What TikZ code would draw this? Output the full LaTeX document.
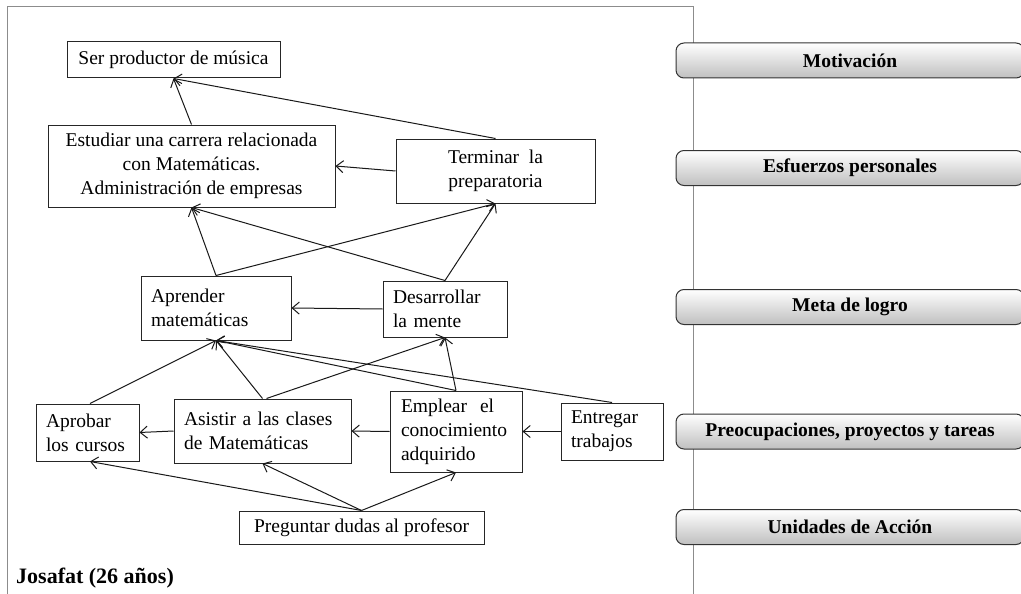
\documentclass[tikz,border=0pt]{standalone}
\usepackage{fontspec}
\setmainfont{Liberation Serif}
\usetikzlibrary{arrows.meta}

\begin{document}
\begin{tikzpicture}[x=1pt,y=-1pt,
  box/.style={draw=black!85, line width=1pt, inner sep=0pt,
    font=\fontsize{19.5}{24}\selectfont, align=center},
  leftbox/.style={box, align=left, text width=#1},
  lab/.style={draw=black!80, line width=1pt, rounded corners=8pt,
    top color=white, bottom color=black!25, minimum width=348pt,
    minimum height=35pt, inner sep=0pt,
    font=\fontsize{19.5}{24}\selectfont\bfseries},
  arr/.style={draw=black!90, line width=1pt,
    -{Straight Barb[length=7pt,width=12pt]}}
]
\clip (0,0) rectangle (1021,594);
\fill[white] (0,0) rectangle (1021,594);

% outer frame of the diagram panel
\draw[black!45, line width=1pt] (7,600) -- (7,7) -- (693,7) -- (693,600);

% level labels
\node[lab] (mot) at (850,60.5) {Motivación};
\node[lab] (esf) at (850,168) {Esfuerzos personales};
\node[lab] (met) at (850,307) {Meta de logro};
\node[lab] (pro) at (850,431.5) {Preocupaciones, proyectos y tareas};
\node[lab] (uni) at (850,527) {Unidades de Acción};

% goal boxes
\node[box, minimum width=213pt, minimum height=36pt] (ser) at (173.5,60) {Ser productor de música};
\node[box, minimum width=287pt, minimum height=82pt] (est) at (191.5,166)
  {Estudiar una carrera relacionada\\con Matemáticas.\\Administración de empresas};
\node[box, minimum width=199pt, minimum height=64pt] (ter) at (495.5,171)
  {Terminar\ \ la\\preparatoria};
\node[leftbox=130pt, minimum width=150pt, minimum height=64pt] (apr) at (216,308)
  {Aprender\\matemáticas};
\node[leftbox=104pt, minimum width=124pt, minimum height=56pt] (des) at (445,309)
  {Desarrollar\\la mente};
\node[leftbox=83pt, minimum width=103pt, minimum height=57pt] (apb) at (87.5,432.5)
  {Aprobar\\los cursos};
\node[leftbox=157pt, minimum width=177pt, minimum height=64pt] (asi) at (262.5,431)
  {Asistir a las clases\\de Matemáticas};
\node[leftbox=110pt, minimum width=132pt, minimum height=81pt] (emp) at (456,431.5)
  {Emplear\ \ el\\conocimiento\\adquirido};
\node[leftbox=82pt, minimum width=102pt, minimum height=57pt] (ent) at (612,431.5)
  {Entregar\\trabajos};
\node[box, minimum width=245pt, minimum height=33pt] (pre) at (361.5,527.5)
  {Preguntar dudas al profesor};

\node[anchor=base west, inner sep=0pt, font=\fontsize{22}{26}\selectfont\bfseries] (jos)
  at (16,583) {Josafat (26 años)};

% connections
\draw[arr] (est.north) -- (ser.south);
\draw[arr] (ter.north) -- (ser.south);
\draw[arr] (ter.west) -- (est.east);
\draw[arr] (apr.north) -- (est.south);
\draw[arr] (apr.north) -- (ter.south);
\draw[arr] (des.north) -- (est.south);
\draw[arr] (des.north) -- (ter.south);
\draw[arr] (des.west) -- (apr.east);
\draw[arr] ([xshift=2.5pt]apb.north) -- (apr.south);
\draw[arr] (asi.north) -- (apr.south);
\draw[arr] ([xshift=4pt]asi.north) -- (des.south);
\draw[arr] (emp.north) -- (apr.south);
\draw[arr] (emp.north) -- (des.south);
\draw[arr] (ent.north) -- (apr.south);
\draw[arr] (emp.west) -- (asi.east);
\draw[arr] (asi.west) -- (apb.east);
\draw[arr] (ent.west) -- (emp.east);
\draw[arr] (pre.north) -- ([xshift=2.5pt]apb.south);
\draw[arr] (pre.north) -- (asi.south);
\draw[arr] (pre.north) -- (emp.south);
\end{tikzpicture}
\end{document}
